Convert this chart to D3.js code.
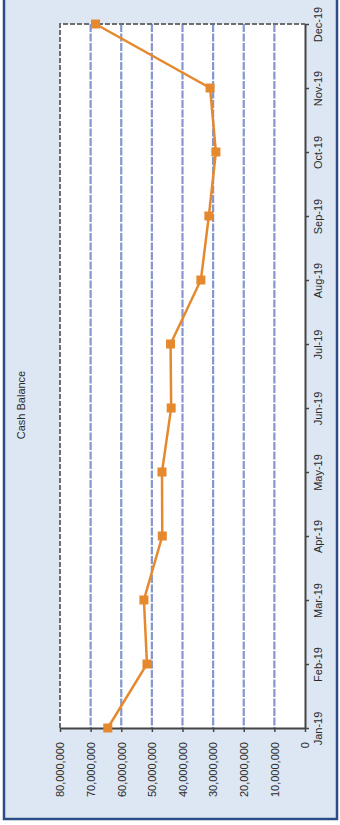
<!DOCTYPE html>
<html>
<head>
<meta charset="utf-8">
<script src="https://cdn.jsdelivr.net/npm/d3@7"></script>
<style>
  html, body { margin: 0; padding: 0; background: #ffffff; }
  svg { display: block; font-family: "Liberation Sans", Arial, sans-serif; }
</style>
</head>
<body>
<svg id="chart" width="340" height="825"></svg>
<script>
// ---- data ----
const months = ["Jan-19","Feb-19","Mar-19","Apr-19","May-19","Jun-19","Jul-19","Aug-19","Sep-19","Oct-19","Nov-19","Dec-19"];
const cashBalance = [64400000, 51600000, 52600000, 46600000, 46700000, 43700000, 43900000, 34000000, 31400000, 29100000, 31000000, 68400000];
const valueTicks = [0, 10000000, 20000000, 30000000, 40000000, 50000000, 60000000, 70000000, 80000000];
const chartTitle = "Cash Balance";

const svg = d3.select("#chart");

// frame / background
svg.append("rect")
  .attr("x", 4).attr("y", -10).attr("width", 333).attr("height", 829)
  .attr("fill", "#dde7f3").attr("stroke", "#2b4c85").attr("stroke-width", 2.5);

// plot geometry (chart is rotated: months run bottom->top, values right->left)
const plot = { left: 60, right: 305, top: 24, bottom: 728 };

const x = d3.scaleLinear().domain([0, 80000000]).range([plot.right, plot.left]);
const y = d3.scalePoint().domain(months).range([plot.bottom, plot.top]).padding(0);

// plot background
svg.append("rect")
  .attr("x", plot.left).attr("y", plot.top)
  .attr("width", plot.right - plot.left).attr("height", plot.bottom - plot.top)
  .attr("fill", "#ffffff");

// gridlines
svg.append("g").selectAll("line")
  .data(valueTicks.filter(v => v > 0 && v < 80000000))
  .join("line")
  .attr("x1", d => x(d)).attr("x2", d => x(d))
  .attr("y1", plot.top).attr("y2", plot.bottom)
  .attr("stroke", "#8597cc").attr("stroke-width", 2.2)
  .attr("stroke-dasharray", "8,1.5");

// dashed plot border (left and top)
svg.append("path")
  .attr("d", `M${plot.left},${plot.bottom} V${plot.top} H${plot.right}`)
  .attr("fill", "none").attr("stroke", "#6e6e6e").attr("stroke-width", 2)
  .attr("stroke-dasharray", "5,2");

// value axis (at bottom, labels rotated)
const valueAxis = svg.append("g")
  .attr("transform", `translate(0,${plot.bottom})`)
  .call(d3.axisBottom(x).tickValues(valueTicks).tickSize(4).tickSizeOuter(0)
    .tickFormat(d3.format(",")));
valueAxis.select(".domain").attr("stroke", "#444").attr("stroke-width", 2);
valueAxis.selectAll(".tick line").attr("stroke", "#444").attr("stroke-width", 1.5);
valueAxis.selectAll(".tick text")
  .attr("transform", "rotate(-90)")
  .attr("x", -14).attr("y", 0).attr("dy", "0.35em")
  .attr("text-anchor", "end")
  .attr("font-size", 11).attr("fill", "#2a2a2a");

// month axis (at right, labels rotated)
const monthAxis = svg.append("g")
  .attr("transform", `translate(${plot.right},0)`)
  .call(d3.axisRight(y).tickSize(4).tickSizeOuter(0));
monthAxis.select(".domain").attr("stroke", "#444").attr("stroke-width", 2);
monthAxis.selectAll(".tick line").attr("stroke", "#444").attr("stroke-width", 1.5);
monthAxis.selectAll(".tick text")
  .attr("x", 0).attr("y", 0).attr("dy", 0)
  .attr("transform", "translate(17,0) rotate(-90)")
  .attr("text-anchor", "middle")
  .attr("font-size", 11).attr("fill", "#2a2a2a");

// line
const pts = months.map((m, i) => ({ m, v: cashBalance[i] }));
svg.append("path")
  .datum(pts)
  .attr("d", d3.line().x(d => x(d.v)).y(d => y(d.m)))
  .attr("fill", "none").attr("stroke", "#e6892e").attr("stroke-width", 2.5);

// markers
svg.append("g").selectAll("rect")
  .data(pts)
  .join("rect")
  .attr("x", d => x(d.v) - 4.5).attr("y", d => y(d.m) - 4.5)
  .attr("width", 9).attr("height", 9)
  .attr("fill", "#e6892e");

// title
svg.append("text")
  .attr("transform", "translate(25,405) rotate(-90)")
  .attr("text-anchor", "middle")
  .attr("font-size", 11).attr("fill", "#2a2a2a")
  .text(chartTitle);
</script>
</body>
</html>
